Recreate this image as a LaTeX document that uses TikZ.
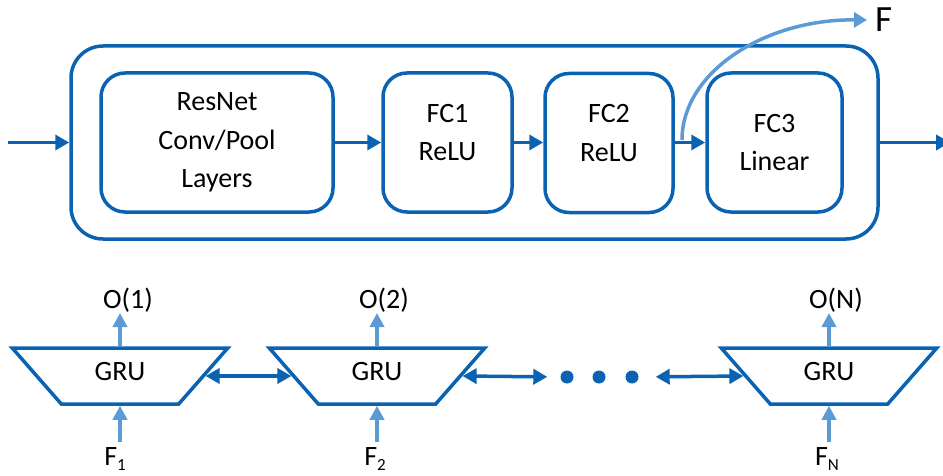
\documentclass[tikz,border=0pt]{standalone}
\usepackage{fontspec}
\setmainfont{Carlito}
\usetikzlibrary{arrows.meta,shapes.geometric}
\definecolor{dblue}{RGB}{10,99,178}
\definecolor{lblue}{RGB}{91,155,213}
\newcommand{\lowsub}[1]{\raisebox{-5pt}{\fontsize{17}{20}\selectfont #1}}
\begin{document}
\begin{tikzpicture}[x=1pt,y=-1pt,
  blk/.style={draw=dblue,line width=3.5pt,rounded corners=24pt,minimum width=#1,minimum height=139pt,inner sep=0pt},
  outerbox/.style={draw=dblue,line width=3.5pt,rounded corners=32pt,minimum width=807pt,minimum height=193pt,inner sep=0pt},
  txt/.style={font=\fontsize{28}{38.5}\selectfont,align=center,inner sep=0pt},
  darr/.style={draw=dblue,line width=3.5pt,-{Triangle[length=14pt,width=15pt]}},
  dbarr/.style={draw=dblue,line width=3.5pt,{Triangle[length=14pt,width=15pt]}-{Triangle[length=14pt,width=15pt]}},
  larr/.style={draw=lblue,line width=3.5pt,-{Triangle[length=14pt,width=14pt]}},
  curvarr/.style={draw=lblue,line width=3.5pt,-{Triangle[length=13pt,width=15pt]}},
  gru/.style={trapezium,trapezium angle=52,shape border rotate=180,trapezium stretches=true,
    draw=dblue,line width=3.5pt,minimum width=216pt,minimum height=56pt,inner sep=0pt,
    font=\fontsize{28}{34}\selectfont,text depth=9pt},
  lab/.style={font=\fontsize{28}{34}\selectfont,inner sep=0pt},
  dot/.style={circle,fill=dblue,minimum size=13pt,inner sep=0pt}]
\useasboundingbox (0,0) rectangle (943,476);

% top network
\node[outerbox] (outer) at (474.5,142.5) {};
\node[blk=232pt] (resnet) at (217,142.5) {};
\node[blk=129pt] (fc1) at (447.5,142.5) {};
\node[blk=128pt] (fc2) at (609,143) {};
\node[blk=135pt] (fc3) at (774.5,142.5) {};
\node[txt] at (resnet.center) {ResNet\\Conv/Pool\\Layers};
\node[txt] at ([yshift=10pt]fc1.center) {FC1\\ReLU};
\node[txt] at ([yshift=10pt]fc2.center) {FC2\\ReLU};
\node[txt] at (fc3.center) {FC3\\Linear};

\coordinate (in) at (8,142.5);
\coordinate (out) at (950,142.5);
\draw[darr] (in) -- (outer.west);
\draw[darr] (resnet.east) -- (fc1.west);
\draw[darr] (fc1.east) -- (fc2.west |- fc1.east);
\draw[darr] (fc2.east |- fc3.west) -- (fc3.west);
\draw[darr] (outer.east) -- (out);

\node[font=\fontsize{37}{42}\selectfont,anchor=west,inner xsep=8pt,inner ysep=0pt] (F) at (867,20) {F};
\coordinate (fs) at (682,140);
\draw[curvarr] (fs) .. controls (682,72.6) and (764,19) .. (F.west);

% GRU chain
\node[gru] (g1) at (120,376) {GRU};
\node[gru] (g2) at (377,376) {GRU};
\node[gru] (g3) at (829,376) {GRU};
\node[dot] (d1) at (567,377) {};
\node[dot] (d2) at (599,377) {};
\node[dot] (d3) at (632,377) {};

\draw[dbarr] (g1.0) -- (g2.180);
\draw[dbarr,shorten >=13pt] (g2.0) -- (d1.west);
\draw[dbarr,shorten <=17pt] (d3.east) -- (g3.180);

\node[lab,anchor=south] (o1) at (128,313) {O(1)};
\node[lab,anchor=south] (o2) at (384,313) {O(2)};
\node[lab,anchor=south] (o3) at (836,313) {O(N)};
\draw[larr] (g1.90) -- (g1.90 |- o1.south);
\draw[larr] (g2.90) -- (g2.90 |- o2.south);
\draw[larr] (g3.90) -- (g3.90 |- o3.south);

\node[lab,anchor=north] (f1) at (115,447) {F\lowsub{1}};
\node[lab,anchor=north] (f2) at (375,447) {F\lowsub{2}};
\node[lab,anchor=north] (f3) at (827,447) {F\lowsub{N}};
\draw[larr] ([yshift=5pt]g1.270 |- f1.north) -- (g1.270);
\draw[larr] ([yshift=5pt]g2.270 |- f2.north) -- (g2.270);
\draw[larr] ([yshift=5pt]g3.270 |- f3.north) -- (g3.270);
\end{tikzpicture}
\end{document}
